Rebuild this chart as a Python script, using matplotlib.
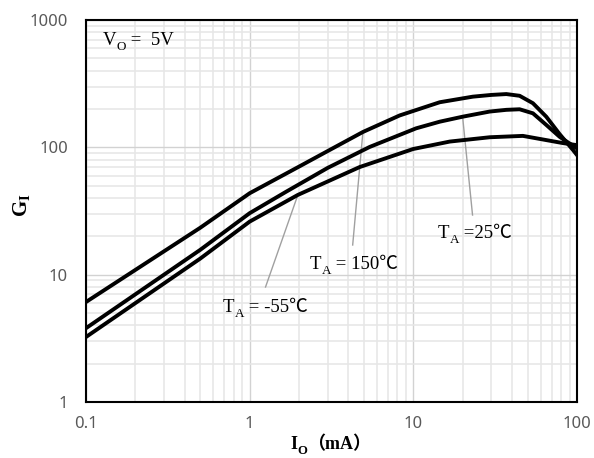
import matplotlib
matplotlib.use("Agg")
import matplotlib.pyplot as plt

# =========================
# data
# =========================
io_150 = [0.1, 0.5, 1, 2.02, 3.23, 4.92, 8.25, 14.5, 23.1, 30, 37, 44.6, 53.8, 64.9, 78.3, 94.4, 100]
gi_150 = [6.1, 23.4, 43.6, 71, 98.5, 132, 178, 226, 250, 258, 262, 254, 222, 174, 127, 95.5, 87]

io_25 = [0.1, 0.5, 1, 1.66, 3.0, 5.41, 10.4, 14.5, 20, 29.3, 37, 44.6, 53.8, 64.9, 78.3, 100]
gi_25 = [3.8, 15.7, 30.4, 44.6, 69, 100.7, 141, 159, 174, 191, 197, 199, 185, 150, 121, 98]

io_m55 = [0.1, 0.5, 1, 1.97, 4.7, 9.97, 16.7, 29.3, 46.7, 64.9, 82, 100]
gi_m55 = [3.24, 13.4, 26.1, 42.3, 70, 97, 111, 120, 123, 114, 108, 104]

# leader lines: curve point -> label
leader_150 = ([4.92, 4.26], [132, 17.1])
leader_25 = ([20, 23], [174, 29.4])
leader_m55 = ([1.97, 1.25], [42.3, 8.0])

x_ticks = [0.1, 1, 10, 100]
x_tick_labels = ["0.1", "1", "10", "100"]
y_ticks = [1, 10, 100, 1000]
y_tick_labels = ["1", "10", "100", "1000"]

# =========================
# style
# =========================
W, H = 594, 458
SERIF = ["Liberation Serif", "Noto Sans CJK SC"]
plt.rcParams["mathtext.fontset"] = "custom"
plt.rcParams["mathtext.rm"] = "Liberation Serif"
plt.rcParams["mathtext.bf"] = "Liberation Serif:bold"

fig = plt.figure(figsize=(W / 100, H / 100), dpi=100, facecolor="white")
ax = fig.add_axes([86 / W, 1 - 402 / H, 491 / W, 382 / H])

ax.set_xscale("log")
ax.set_yscale("log")
ax.set_xlim(0.1, 100)
ax.set_ylim(1, 1000)

ax.set_xticks(x_ticks)
ax.set_xticklabels(x_tick_labels)
ax.set_yticks(y_ticks)
ax.set_yticklabels(y_tick_labels)
ax.tick_params(which="both", length=0)
ax.tick_params(axis="x", pad=10)
ax.tick_params(axis="y", pad=13)
for lab in ax.get_xticklabels() + ax.get_yticklabels():
    lab.set_family("Noto Sans")
    lab.set_fontsize(12)
    lab.set_color("#595959")

ax.grid(True, which="major", color="#d2d2d2", lw=1.0)
ax.grid(True, which="minor", color="#e6e6e6", lw=1.1)
ax.set_axisbelow(True)
for sp in ax.spines.values():
    sp.set_color("black")
    sp.set_linewidth(1.5)
    sp.set_zorder(5)

# curves
for xs, ys in [(io_150, gi_150), (io_25, gi_25), (io_m55, gi_m55)]:
    ax.plot(xs, ys, color="black", lw=2.8, solid_joinstyle="round", zorder=3)

for xs, ys in [leader_150, leader_25, leader_m55]:
    ax.plot(xs, ys, color="#a0a0a0", lw=1.0, zorder=2)


# =========================
# text with subscripts
# =========================
def sub_label(px, py, main, sub, rest, size, weight="normal"):
    yf = 1 - py / H
    t = fig.text(px / W, yf, main, fontsize=size, family=SERIF, weight=weight,
                 ha="left", va="baseline")
    s = ax.annotate(sub, xy=(1, yf), xycoords=(t, "figure fraction"),
                    xytext=(0.3, -0.28 * size), textcoords="offset points",
                    fontsize=size * 0.7, family=SERIF, weight=weight,
                    ha="left", va="baseline", annotation_clip=False)
    ax.annotate(rest, xy=(1, yf), xycoords=(s, "figure fraction"),
                fontsize=size, family=SERIF, weight=weight,
                ha="left", va="baseline", annotation_clip=False)


sub_label(103, 45, "V", "O", " =  5V", 13.5)
sub_label(310, 269, "T", "A", " = 150℃", 13.5)
sub_label(438, 238, "T", "A", " =25℃", 13.5)
sub_label(223, 312, "T", "A", " = -55℃", 13.5)

# axis titles
sub_label(290, 449, "I", "O", "（mA）", 13, weight="bold")
fig.text(22 / W, 1 - 205 / H, r"$\mathbf{G_I}$", rotation=90,
         ha="center", va="center", fontsize=15)

fig.savefig("out.png", dpi=100, facecolor="white")
